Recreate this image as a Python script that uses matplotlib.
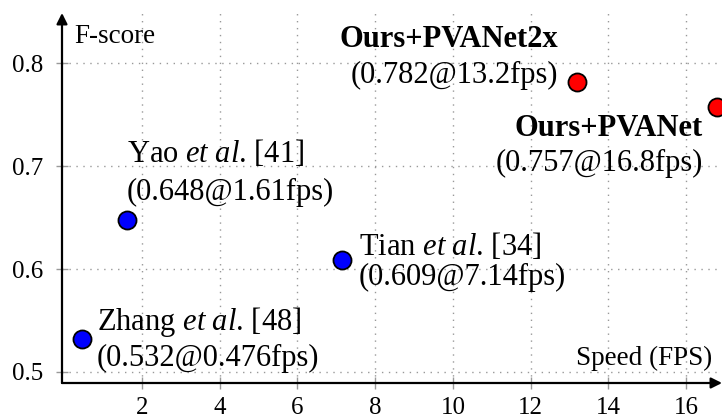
import matplotlib.pyplot as plt

plt.rcParams["font.family"] = "Liberation Serif"
plt.rcParams["mathtext.fontset"] = "custom"
plt.rcParams["mathtext.rm"] = "Liberation Serif"
plt.rcParams["mathtext.it"] = "Liberation Serif:italic"
plt.rcParams["mathtext.bf"] = "Liberation Serif:bold"

# speed / accuracy of each detector
names = ["Zhang $\\mathit{et\\ al}$. [48]", "Yao $\\mathit{et\\ al}$. [41]",
         "Tian $\\mathit{et\\ al}$. [34]", "Ours+PVANet2x", "Ours+PVANet"]
fps = [0.476, 1.61, 7.14, 13.2, 16.8]
fscore = [0.532, 0.648, 0.609, 0.782, 0.757]
ours = [False, False, False, True, True]

xticks = [2, 4, 6, 8, 10, 12, 14, 16]
yticks = [0.5, 0.6, 0.7, 0.8]

# label placement in pixels from the marker: x, name baseline, value baseline, align
label_pos = [
    (14.5, 9.4, -26.6, "left"),
    (0, 58, 20, "left"),
    (17, 5, -25, "left"),
    (-19.5, 35, -1.5, "right"),
    (-14.5, -28.4, -64, "right"),
]

fig = plt.figure(figsize=(7.22, 4.19), dpi=100)
ax = fig.add_axes([62 / 722, 36 / 419, 660 / 722, 370 / 419])
ax.set_xlim(-0.05, 16.92)
ax.set_ylim(0.4893, 0.8488)

for s in ax.spines.values():
    s.set_visible(False)

ax.set_xticks(xticks)
ax.set_yticks(yticks)
ax.set_yticklabels([f"{v:.1f}" for v in yticks])
ax.tick_params(direction="inout", length=9, width=1, color="#999999",
               labelsize=18)
ax.tick_params(axis="y", pad=9)
ax.tick_params(axis="x", pad=5.5)
ax.grid(True, linestyle=(0, (1, 4)), color="#999999", linewidth=1)
ax.set_axisbelow(True)

# axes with arrow heads
arrow = dict(arrowstyle="-|>", color="black", lw=1.6, mutation_scale=16,
             shrinkA=0, shrinkB=0)
ax.annotate("", xy=(0, 1), xytext=(0, 0), xycoords="axes fraction", arrowprops=arrow)
ax.annotate("", xy=(1, 0), xytext=(0, 0), xycoords="axes fraction", arrowprops=arrow)

ax.annotate("F-score", xy=(0, 1), xycoords="axes fraction", xytext=(9, -8),
            textcoords="offset points", ha="left", va="top", fontsize=19.5)
ax.annotate("Speed (FPS)", xy=(1, 0), xycoords="axes fraction", xytext=(-7, 13),
            textcoords="offset points", ha="right", va="baseline", fontsize=19.5)

for name, x, y, mine, (dx, dyn, dyv, ha) in zip(names, fps, fscore, ours, label_pos):
    ax.plot(x, y, "o", ms=13, mfc="red" if mine else "blue", mec="black",
            mew=1.3, clip_on=False, zorder=5)
    ax.annotate(name, xy=(x, y), xytext=(dx * 0.72, dyn * 0.72),
                textcoords="offset points", ha=ha, va="baseline", fontsize=22,
                fontweight="bold" if mine else "normal")
    ax.annotate(f"({y:.3f}@{x}fps)", xy=(x, y), xytext=(dx * 0.72, dyv * 0.72),
                textcoords="offset points", ha=ha, va="baseline", fontsize=22)

fig.savefig("out.png", dpi=100)
